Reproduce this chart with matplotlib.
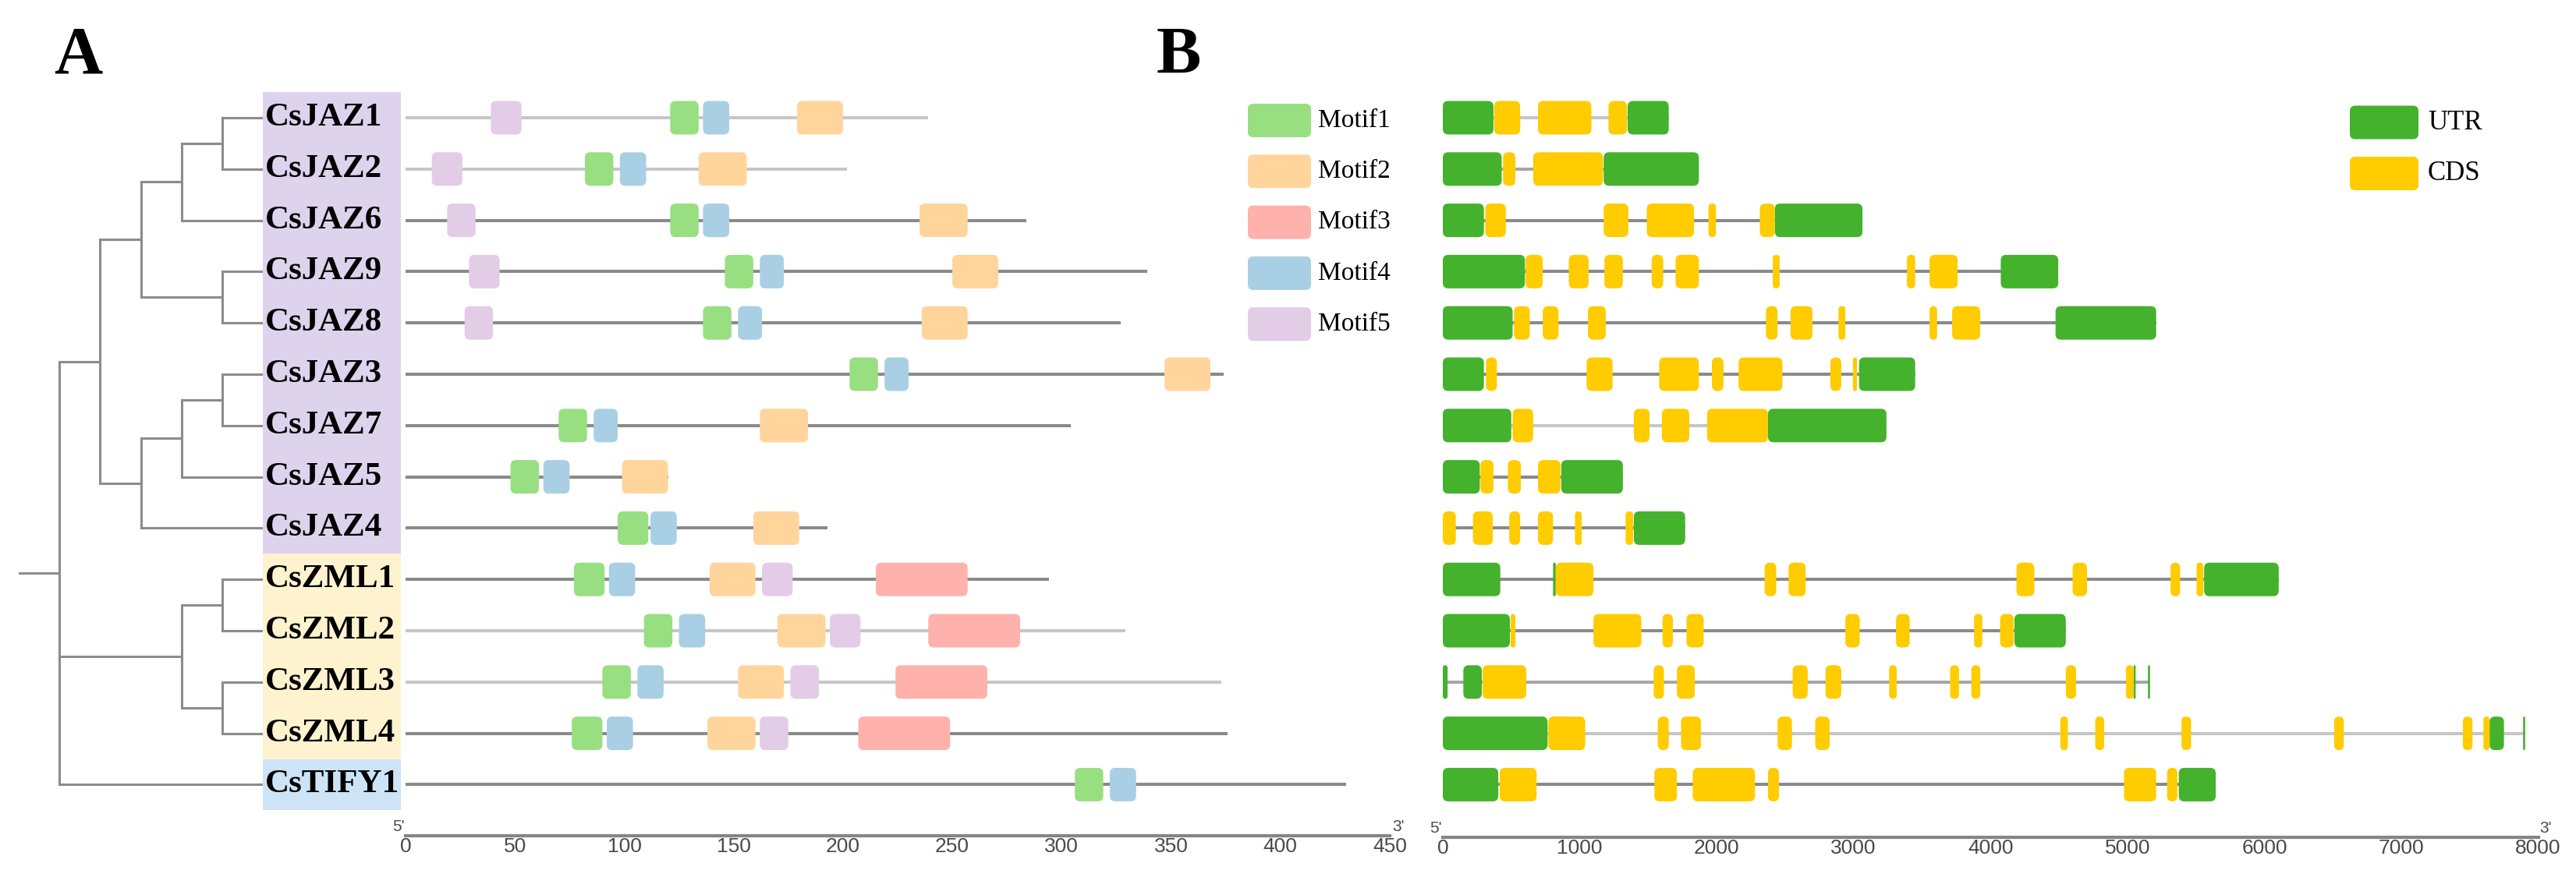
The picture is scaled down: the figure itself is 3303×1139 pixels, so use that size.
import matplotlib.pyplot as plt
from matplotlib.patches import FancyBboxPatch, Rectangle

# ---- data ----
genes = ['CsJAZ1', 'CsJAZ2', 'CsJAZ6', 'CsJAZ9', 'CsJAZ8', 'CsJAZ3', 'CsJAZ7',
         'CsJAZ5', 'CsJAZ4', 'CsZML1', 'CsZML2', 'CsZML3', 'CsZML4', 'CsTIFY1']

# cladogram (leaf order = genes)
jaz_clade = (((('CsJAZ1', 'CsJAZ2'), 'CsJAZ6'), ('CsJAZ9', 'CsJAZ8')),
             ((('CsJAZ3', 'CsJAZ7'), 'CsJAZ5'), 'CsJAZ4'))
zml_clade = (('CsZML1', 'CsZML2'), ('CsZML3', 'CsZML4'))
tree = (jaz_clade, zml_clade, 'CsTIFY1')

# protein length (aa)
protein_len = [239, 202, 284, 339, 327, 374, 304, 120, 193, 294, 329, 373, 376, 430]

# motif positions (start, end) per gene, None = absent
motif1 = [(121, 134), (82, 95), (121, 134), (146, 159), (136, 149), (203, 216), (70, 83),
          (48, 61), (97, 111), (77, 91), (109, 122), (90, 103), (76, 90), (306, 319)]
motif2 = [(179, 200), (134, 156), (235, 257), (250, 271), (236, 257), (347, 368), (162, 184),
          (99, 120), (159, 180), (139, 160), (170, 192), (152, 173), (138, 160), None]
motif3 = [None, None, None, None, None, None, None, None, None,
          (215, 257), (239, 281), (224, 266), (207, 249), None]
motif4 = [(136, 148), (98, 110), (136, 148), (162, 173), (152, 163), (219, 230), (86, 97),
          (63, 75), (112, 124), (93, 105), (125, 137), (106, 118), (92, 104), (322, 334)]
motif5 = [(39, 53), (12, 26), (19, 32), (29, 43), (27, 40), None, None, None, None,
          (163, 177), (194, 208), (176, 189), (162, 175), None]
motif_names = ['Motif1', 'Motif2', 'Motif3', 'Motif4', 'Motif5']

# gene structure (bp)
gene_len = [1650, 1870, 3065, 4495, 5210, 3450, 3240, 1315, 1770, 6105, 4550, 5165, 7905, 5645]
utr = [
    [(0, 370), (1350, 1650)],
    [(0, 430), (1175, 1870)],
    [(0, 300), (2425, 3065)],
    [(0, 600), (4075, 4495)],
    [(0, 510), (4475, 5210)],
    [(0, 300), (3040, 3450)],
    [(0, 500), (2375, 3240)],
    [(0, 270), (865, 1315)],
    [(1395, 1770)],
    [(0, 420), (805, 825), (5560, 6105)],
    [(0, 490), (4175, 4550)],
    [(0, 35), (150, 285), (5045, 5060), (5150, 5165)],
    [(0, 765), (7645, 7750), (7890, 7905)],
    [(0, 405), (5375, 5645)],
]
cds = [
    [(375, 565), (695, 1085), (1210, 1345)],
    [(440, 530), (660, 1170)],
    [(310, 460), (1175, 1355), (1490, 1835), (1940, 1995), (2315, 2425)],
    [(605, 730), (920, 1065), (1180, 1315), (1525, 1610), (1700, 1870), (2410, 2460),
     (3390, 3450), (3555, 3760)],
    [(520, 635), (730, 845), (1060, 1190), (2360, 2445), (2540, 2700), (2890, 2940),
     (3555, 3610), (3720, 3925)],
    [(315, 395), (1050, 1240), (1580, 1870), (1965, 2050), (2160, 2480), (2830, 2910),
     (2995, 3025)],
    [(510, 660), (1395, 1510), (1600, 1800), (1930, 2375)],
    [(275, 370), (475, 570), (695, 860)],
    [(0, 95), (220, 365), (485, 565), (695, 805), (965, 1015), (1335, 1390)],
    [(825, 1100), (2350, 2435), (2525, 2650), (4190, 4320), (4600, 4705), (5315, 5385),
     (5505, 5555)],
    [(495, 530), (1100, 1450), (1605, 1680), (1780, 1905), (2940, 3045), (3310, 3410),
     (3880, 3940), (4070, 4170)],
    [(290, 610), (1540, 1615), (1710, 1840), (2555, 2665), (2795, 2910), (3260, 3315),
     (3705, 3770), (3860, 3925), (4550, 4625), (4990, 5045)],
    [(770, 1040), (1570, 1650), (1740, 1885), (2445, 2550), (2720, 2825), (4510, 4565),
     (4765, 4830), (5395, 5465), (6510, 6580), (7450, 7520), (7600, 7645)],
    [(415, 685), (1545, 1710), (1825, 2280), (2375, 2455), (4975, 5210), (5290, 5365)],
]

aa_ticks = list(range(0, 451, 50))
bp_ticks = list(range(0, 8001, 1000))

# ---- style ----
motif_colors = ['#98DF82', '#FFD59C', '#FFB2AC', '#A9CFE5', '#E2CCE6']
utr_color, cds_color = '#44B22C', '#FFCC00'
shade = {'l': '#c6c6c6', 'm': '#a6a6a6', 'd': '#8a8a8a'}
line_shade_a = 'llddddddddlldd'
line_shade_b = 'lmddddlddddmld'
group_colors = [('#DDD3EC', -0.5, 8.5), ('#FFF3CF', 8.5, 12.5), ('#CCE4F6', 12.5, 13.5)]
serif = 'Liberation Serif'
narrow = ['Liberation Sans Narrow', 'Liberation Sans']
tick_col = '#4a4a4a'

W, H = 3303, 1139
ROW0, STEP = 151, 65.8
BOX_H = 43 / STEP

fig = plt.figure(figsize=(W / 100, H / 100), dpi=100)


def add_ax(x0, x1, xlim):
    ax = fig.add_axes([x0 / W, 0, (x1 - x0) / W, 1])
    ax.set_xlim(*xlim)
    ax.set_ylim((H - ROW0) / STEP, -ROW0 / STEP)
    ax.axis('off')
    return ax


def rbox(ax, x0, x1, yc, color, px_x, px_y, h, r_px=7):
    w = x1 - x0
    r = min(r_px / px_x, w / 2)
    r = min(r, (h / 2) * px_y / px_x)
    ax.add_patch(FancyBboxPatch((x0, yc - h / 2), w, h,
                                boxstyle=f'round,pad=0,rounding_size={r}',
                                mutation_aspect=px_x / px_y,
                                fc=color, ec='none', clip_on=False, zorder=3))


# ---- tree ----
ax_t = add_ax(24, 337, (0, 6))
row_of = {g: i for i, g in enumerate(genes)}


def height(node):
    if isinstance(node, str):
        return 0
    return 1 + max(height(c) for c in node)


def draw(node):
    if isinstance(node, str):
        return 6, row_of[node]
    x = 6 - height(node)
    kids = [draw(c) for c in node]
    ys = [k[1] for k in kids]
    for cx, cy in kids:
        ax_t.plot([x, cx], [cy, cy], color='#8c8c8c', lw=2.2, solid_capstyle='butt')
    ax_t.plot([x, x], [ys[0], ys[-1]], color='#8c8c8c', lw=2.2, solid_capstyle='projecting')
    return x, (ys[0] + ys[-1]) / 2


rx, ry = draw(tree)
ax_t.plot([0, rx], [ry, ry], color='#8c8c8c', lw=2.2)

# ---- labels ----
ax_l = add_ax(337, 514, (0, 1))
for col, y0, y1 in group_colors:
    ax_l.add_patch(Rectangle((0, y0), 1, y1 - y0, fc=col, ec='none'))
for i, g in enumerate(genes):
    ax_l.text(0.015, i, g, fontsize=31, fontweight='bold', family=serif,
              va='center', ha='left')

# ---- motifs ----
ax_m = add_ax(520, 1782, (0, 450))
pxm = 1262 / 450
for i, L in enumerate(protein_len):
    ax_m.plot([0, L], [i, i], color=shade[line_shade_a[i]], lw=2.9, zorder=1,
              solid_capstyle='butt')
for k, mlist in enumerate([motif1, motif2, motif3, motif4, motif5]):
    for i, pos in enumerate(mlist):
        if pos is not None:
            rbox(ax_m, pos[0], pos[1], i, motif_colors[k], pxm, STEP, BOX_H)

ax_m.plot([0, 450], [14.0, 14.0], color='#858585', lw=3, clip_on=False)
for t in aa_ticks:
    ax_m.text(t, 14.02, str(t), fontsize=19, family=narrow, color=tick_col,
              ha='center', va='top')
ax_m.text(-0.5, 13.97, "5'", fontsize=15, family=narrow, color=tick_col, ha='right', va='bottom')
ax_m.text(451, 13.97, "3'", fontsize=15, family=narrow, color=tick_col, ha='left', va='bottom')

# ---- gene structure ----
ax_g = add_ax(1850, 3254.5, (0, 8000))
pxg = 1404.5 / 8000
for i, L in enumerate(gene_len):
    ax_g.plot([0, L], [i, i], color=shade[line_shade_b[i]], lw=2.9, zorder=1,
              solid_capstyle='butt')
    for s, e in utr[i]:
        rbox(ax_g, s, e, i, utr_color, pxg, STEP, BOX_H)
    for s, e in cds[i]:
        rbox(ax_g, s, e, i, cds_color, pxg, STEP, BOX_H)

ax_g.plot([0, 8000], [14.03, 14.03], color='#858585', lw=3, clip_on=False)
for t in bp_ticks:
    ax_g.text(t, 14.06, str(t), fontsize=19, family=narrow, color=tick_col,
              ha='center', va='top')
ax_g.text(-5, 14.0, "5'", fontsize=15, family=narrow, color=tick_col, ha='right', va='bottom')
ax_g.text(8010, 14.0, "3'", fontsize=15, family=narrow, color=tick_col, ha='left', va='bottom')

# ---- overlay: panel letters and legends (pixel coordinates) ----
ax_o = fig.add_axes([0, 0, 1, 1])
ax_o.set_xlim(0, W)
ax_o.set_ylim(H, 0)
ax_o.axis('off')
ax_o.text(69, 94, 'A', fontsize=62, fontweight='bold', family=serif, va='baseline')
ax_o.text(1483, 94, 'B', fontsize=62, fontweight='bold', family=serif, va='baseline')

for k, name in enumerate(motif_names):
    yc = 154.5 + 65.3 * k
    rbox(ax_o, 1600, 1681, yc, motif_colors[k], 1, 1, 43)
    ax_o.text(1690, yc, name, fontsize=24, family=serif, va='center', ha='left')

for k, (name, col) in enumerate([('UTR', utr_color), ('CDS', cds_color)]):
    yc = 157 + 65.5 * k
    rbox(ax_o, 3013, 3101, yc, col, 1, 1, 43)
    ax_o.text(3113, yc, name, fontsize=25, family=serif, va='center', ha='left')

fig.savefig('out.png', dpi=100)
